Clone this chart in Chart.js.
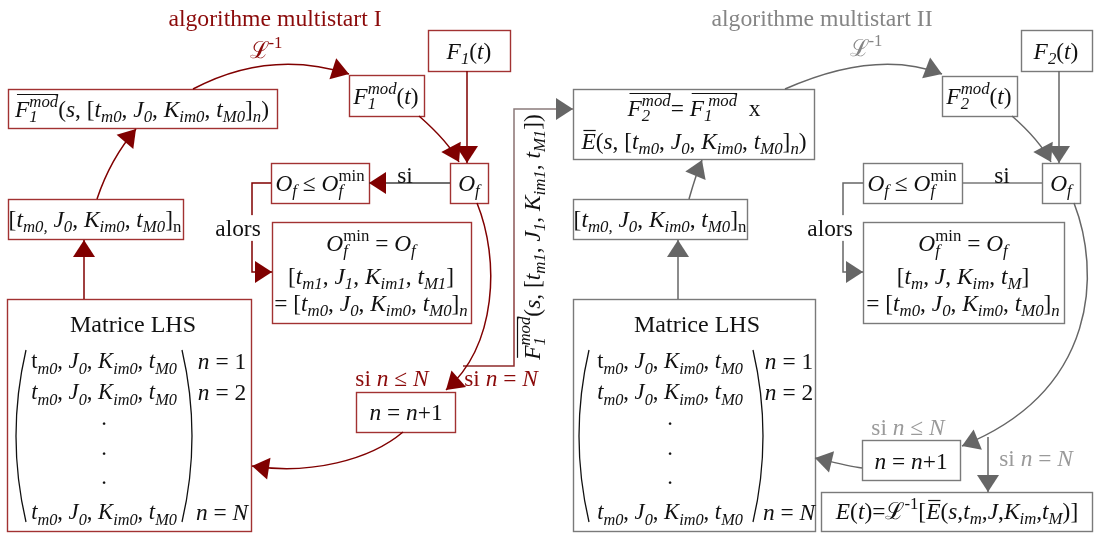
<!DOCTYPE html>
<html>
<head>
<meta charset="utf-8">
<script src="https://cdn.jsdelivr.net/npm/chart.js@4.4.1/dist/chart.umd.min.js"></script>
<style>
  html, body { margin: 0; padding: 0; background: #fff; }
  #wrap { width: 1096px; height: 535px; }
</style>
</head>
<body>
<div id="wrap"><canvas id="c"></canvas></div>
<script>
// Diagram coordinates are given in the 1096 x 535 frame of the figure,
// the chart's x/y scales map them onto the canvas.
const RED = '#800000', RED_BOX = '#a23232', RED_TXT = '#8b0a0a';
const GREY = '#666666', GREY_BOX = '#7a7a7a', GREY_TXT = '#858585', LIGHT_TXT = '#9a9a9a';
const INK = '#111111';
const FONT = '"Liberation Serif", "Times New Roman", "DejaVu Serif", serif';
const S = 23.4;   // text size inside boxes
const M = 22.6;   // text size of the matrix rows
const SUB = 0.72; // size ratio of sub/superscripts

// boxes: [x0, y0, x1, y1]
const boxesI = [
  [428, 30, 510, 71],    // F1(t)
  [349, 75, 424, 116],   // F1mod(t)
  [8, 89, 277, 128],     // F1mod(s, ...)
  [8, 199, 183, 239],    // [tm0 ...]n
  [450, 163, 488, 203],  // Of
  [271, 163, 369, 203],  // Of <= Ofmin
  [272, 222, 471, 323],  // Ofmin = Of
  [7, 299, 251, 531],    // Matrice LHS
  [356, 392, 455, 432]   // n = n+1
];
const boxesII = [
  [1021, 30, 1092, 71],
  [942, 76, 1017, 116],
  [573, 89, 814, 159],
  [573, 199, 747, 239],
  [1042, 163, 1080, 203],
  [863, 163, 962, 203],
  [863, 222, 1064, 323],
  [573, 299, 815, 531],
  [862, 440, 960, 480],
  [821, 492, 1092, 531]
];

// straight connectors (polylines), the last point carries the arrow head
const linesI = [
  [[467, 71], [467, 163]],
  [[271, 183], [252, 183], [252, 272], [272, 272]],
  [[84, 299], [84, 240]]
];
const lineSiI = [[450, 183], [369, 183]];
const linkI_II = [[463, 366], [514, 366], [514, 109], [573, 109]];
const linesII = [
  [[1059, 71], [1059, 163]],
  [[863, 183], [843, 183], [843, 272], [863, 272]],
  [[678, 299], [678, 240]],
  [[988, 437], [988, 492]]
];
const lineSiII = [[1042, 183], [962, 183]];

// curved arrows: cubic [x0, y0, c1x, c1y, c2x, c2y, x1, y1]
const curvesI = [
  [193, 89, 244, 62, 296, 57, 349, 74],
  [419, 116, 435, 130, 450, 145, 459, 162],
  [97, 199, 105, 175, 118, 150, 136, 129],
  [477, 203, 500, 260, 497, 345, 446, 390],
  [403, 432, 370, 460, 310, 475, 252, 466]
];
const curvesII = [
  [785, 89, 846, 62, 898, 57, 942, 74],
  [1012, 116, 1028, 130, 1042, 145, 1051, 162],
  [689, 199, 693, 185, 697, 172, 702, 160],
  [1074, 203, 1100, 270, 1100, 390, 962, 446],
  [862, 468, 848, 466, 832, 462, 815, 458]
];

// matrix brackets: [x, yTop, yBottom, side]
const parens = [[26, 350, 522, -1], [182, 350, 522, 1], [589, 350, 522, -1], [753, 350, 522, 1]];

// labels: [text, cx, cy, size, colour]  (* toggles italic, _{} sub, ^{} sup, ~{} overline)
const rowFirst = 't_{*m0*}, *J*_{*0*}, *K*_{*im0*}, *t*_{*M0*}';
const rowOther = '*t*_{*m0*}, *J*_{*0*}, *K*_{*im0*}, *t*_{*M0*}';
const labelsI = [
  ['algorithme multistart I', 275, 18, 23.7, RED_TXT],
  ['ℒ^{-1}', 266, 50, S, RED_TXT],
  ['*F*_{*1*}(*t*)', 469, 51, S, INK],
  ['*F*_{*1*}^{*mod*}(*t*)', 386, 96, S, INK],
  ['~{*F*_{*1*}^{*mod*}}(*s*, [*t*_{*m0*}, *J*_{*0*}, *K*_{*im0*}, *t*_{*M0*}]_{*n*})', 142, 109, S, INK],
  ['*O*_{*f*}', 469, 183, S, INK],
  ['*O*_{*f*} ≤ *O*_{*f*}^{min}', 320, 183, S, INK],
  ['si', 405, 175, S, INK],
  ['*O*_{*f*}^{min} = *O*_{*f*}', 371, 243, S, INK],
  ['[*t*_{*m1*}, *J*_{*1*}, *K*_{*im1*}, *t*_{*M1*}]', 371, 276, S, INK],
  ['= [*t*_{*m0*}, *J*_{*0*}, *K*_{*im0*}, *t*_{*M0*}]_{*n*}', 371, 303, S, INK],
  ['[*t*_{*m0,*} *J*_{*0*}, *K*_{*im0*}, *t*_{*M0*}]_{n}', 95, 219, S, INK],
  ['Matrice LHS', 133, 324, 24, INK],
  [rowFirst, 104, 361, M, INK],
  [rowOther, 104, 392, M, INK],
  ['.', 104, 418, M, INK],
  ['.', 104, 448, M, INK],
  ['.', 104, 477, M, INK],
  [rowOther, 104, 512, M, INK],
  ['*n* = 1', 222, 361, S, INK],
  ['*n* = 2', 222, 392, S, INK],
  ['*n* = *N*', 222, 512, S, INK],
  ['*n* = *n*+1', 406, 412, S, INK],
  ['si *n* ≤ *N*', 392, 378, S, RED_TXT],
  ['si *n* = *N*', 501, 378, S, RED_TXT]
];
const labelsII = [
  ['algorithme multistart II', 822, 18, 23.7, GREY_TXT],
  ['ℒ^{-1}', 866, 48, S, GREY_TXT],
  ['*F*_{*2*}(*t*)', 1056, 51, S, INK],
  ['*F*_{*2*}^{*mod*}(*t*)', 979, 96, S, INK],
  ['~{*F*_{*2*}^{*mod*}}= ~{*F*_{*1*}^{ *mod*}}  x', 694, 108, S, INK],
  ['~{*E*}(*s*, [*t*_{*m0*}, *J*_{*0*}, *K*_{*im0*}, *t*_{*M0*}]_{*n*})', 694, 141, S, INK],
  ['*O*_{*f*}', 1061, 183, S, INK],
  ['*O*_{*f*} ≤ *O*_{*f*}^{min}', 912, 183, S, INK],
  ['si', 1002, 175, S, INK],
  ['*O*_{*f*}^{min} = *O*_{*f*}', 963, 243, S, INK],
  ['[*t*_{*m*}, *J*, *K*_{*im*}, *t*_{*M*}]', 963, 276, S, INK],
  ['= [*t*_{*m0*}, *J*_{*0*}, *K*_{*im0*}, *t*_{*M0*}]_{*n*}', 963, 303, S, INK],
  ['[*t*_{*m0,*} *J*_{*0*}, *K*_{*im0*}, *t*_{*M0*}]_{n}', 660, 219, S, INK],
  ['Matrice LHS', 697, 324, 24, INK],
  [rowFirst, 670, 361, M, INK],
  [rowOther, 670, 392, M, INK],
  ['.', 670, 418, M, INK],
  ['.', 670, 448, M, INK],
  ['.', 670, 477, M, INK],
  [rowOther, 670, 512, M, INK],
  ['*n* = 1', 789, 361, S, INK],
  ['*n* = 2', 789, 392, S, INK],
  ['*n* = *N*', 789, 512, S, INK],
  ['*n* = *n*+1', 911, 461, S, INK],
  ['si *n* ≤ *N*', 908, 427, S, LIGHT_TXT],
  ['si *n* = *N*', 1036, 458, S, LIGHT_TXT],
  ['*E*(*t*)=ℒ^{-1}[~{*E*}(*s*,*t*_{*m*},*J*,*K*_{*im*},*t*_{*M*})]', 957, 511, S, INK]
];
// words sitting on a line, drawn over a white patch
const patchLabels = [['alors', 238, 228, S], ['alors', 830, 228, S]];
// rotated label along the I -> II link
const sideLabel = ['~{*F*_{*1*}^{*mod*}}(*s*, [*t*_{*m1*}, *J*_{*1*}, *K*_{*im1*}, *t*_{*M1*}])', 532, 237, S];

// ---- small rich text renderer ----
function fontOf(r) {
  return (r.it ? 'italic ' : '') + r.sz.toFixed(1) + 'px ' + FONT;
}

function parseRich(src, size) {
  const runs = [];
  let italic = false, gid = 0, olid = 0;
  function walk(s, sz, dy, ol, g, stackOn) {
    let buf = '', first = true, lastSubG = null, lastSubEnd = -1, i = 0;
    const flush = () => {
      if (!buf) return;
      runs.push({ t: buf, it: italic, sz, dy, ol, g, stackOn: first ? stackOn : null });
      first = false;
      buf = '';
    };
    while (i < s.length) {
      const c = s[i];
      if (c === '*') { flush(); italic = !italic; i++; continue; }
      if ('_^~'.includes(c) && s[i + 1] === '{') {
        let d = 0, j = i + 1;
        for (; j < s.length; j++) {
          if (s[j] === '{') d++;
          else if (s[j] === '}' && --d === 0) break;
        }
        const inner = s.slice(i + 2, j);
        flush();
        if (c === '_') {
          const myg = ++gid;
          walk(inner, sz * SUB, dy + sz * 0.24, ol, myg, null);
          lastSubG = myg;
          lastSubEnd = j + 1;
        } else if (c === '^') {
          walk(inner, sz * SUB, dy - sz * 0.4, ol, ++gid, lastSubEnd === i ? lastSubG : null);
        } else {
          walk(inner, sz, dy, ++olid, g, null);
        }
        i = j + 1;
        continue;
      }
      buf += c;
      i++;
    }
    flush();
  }
  walk(src, size, 0, 0, 0, null);
  return runs;
}

function measureRich(ctx, runs) {
  let x = 0, pend = null, pendG = null;
  const gs = {}, ge = {};
  for (const r of runs) {
    ctx.font = fontOf(r);
    if (r.stackOn != null) { pend = ge[r.stackOn]; pendG = r.g; x = gs[r.stackOn]; }
    else if (pend != null && r.g !== pendG) { x = Math.max(x, pend); pend = null; }
    r.x = x;
    r.w = ctx.measureText(r.t).width;
    x += r.w;
    if (gs[r.g] == null) gs[r.g] = r.x;
    ge[r.g] = x;
  }
  if (pend != null) x = Math.max(x, pend);
  return x;
}

function drawRich(ctx, src, cx, cy, size, color, patch) {
  const runs = parseRich(src, size);
  const w = measureRich(ctx, runs);
  const x0 = cx - w / 2, base = cy + size * 0.33;
  if (patch) {
    ctx.fillStyle = '#fff';
    ctx.fillRect(x0 - 2, cy - size * 0.55, w + 4, size * 1.1);
  }
  ctx.textAlign = 'left';
  ctx.textBaseline = 'alphabetic';
  ctx.fillStyle = color;
  for (const r of runs) {
    ctx.font = fontOf(r);
    ctx.fillText(r.t, x0 + r.x, base + r.dy);
  }
  const ols = {};
  for (const r of runs) {
    if (!r.ol) continue;
    const o = ols[r.ol] || (ols[r.ol] = { a: Infinity, b: -Infinity, top: Infinity });
    o.a = Math.min(o.a, r.x);
    o.b = Math.max(o.b, r.x + r.w);
    o.top = Math.min(o.top, r.dy - r.sz * 0.7);
  }
  ctx.strokeStyle = color;
  ctx.lineWidth = 1.2;
  for (const k in ols) {
    const o = ols[k], y = Math.round(base + o.top - 2) + 0.5;
    ctx.beginPath();
    ctx.moveTo(x0 + o.a + 2, y);
    ctx.lineTo(x0 + o.b, y);
    ctx.stroke();
  }
}

function head(ctx, fx, fy, tx, ty, color) {
  const a = Math.atan2(ty - fy, tx - fx), L = 17, H = 11;
  const bx = tx - L * Math.cos(a), by = ty - L * Math.sin(a);
  ctx.fillStyle = color;
  ctx.beginPath();
  ctx.moveTo(tx, ty);
  ctx.lineTo(bx + H * Math.sin(a), by - H * Math.cos(a));
  ctx.lineTo(bx - H * Math.sin(a), by + H * Math.cos(a));
  ctx.closePath();
  ctx.fill();
}

// ---- datasets for straight connectors ----
function lineSet(pts, color, headColor) {
  return {
    data: pts.map(([x, y]) => ({ x, y })),
    showLine: true, fill: false, tension: 0,
    borderColor: color, borderWidth: 1.5,
    pointRadius: 0, pointHoverRadius: 0, clip: false,
    headColor
  };
}

const datasets = [
  ...linesI.map(p => lineSet(p, RED, RED)),
  lineSet(lineSiI, '#404040', RED),
  ...linesII.map(p => lineSet(p, GREY, GREY)),
  lineSet(lineSiII, '#777777', null),
  Object.assign(lineSet(linkI_II, '#904040', GREY), {
    borderColor(context) {
      const { chart } = context;
      if (!chart.chartArea) return '#904040';
      const y = chart.scales.y;
      const g = chart.ctx.createLinearGradient(0, y.getPixelForValue(366), 0, y.getPixelForValue(109));
      g.addColorStop(0, '#8e2a2a');
      g.addColorStop(1, '#8a7a7a');
      return g;
    }
  })
];

const diagramPlugin = {
  id: 'diagram',
  beforeDatasetsDraw(chart) {
    const { ctx, scales: { x, y } } = chart;
    ctx.save();
    ctx.lineWidth = 1.4;
    const box = (b, color) => {
      const x0 = x.getPixelForValue(b[0]), y0 = y.getPixelForValue(b[1]);
      const x1 = x.getPixelForValue(b[2]), y1 = y.getPixelForValue(b[3]);
      ctx.fillStyle = '#fff';
      ctx.fillRect(x0, y0, x1 - x0, y1 - y0);
      ctx.strokeStyle = color;
      ctx.strokeRect(Math.round(x0) + 0.5, Math.round(y0) + 0.5, Math.round(x1 - x0), Math.round(y1 - y0));
    };
    boxesI.forEach(b => box(b, RED_BOX));
    boxesII.forEach(b => box(b, GREY_BOX));
    ctx.restore();
  },
  afterDatasetsDraw(chart) {
    const { ctx, scales: { x, y } } = chart;
    ctx.save();
    // arrow heads of the straight connectors
    chart.data.datasets.forEach((ds, i) => {
      if (!ds.headColor) return;
      const pts = chart.getDatasetMeta(i).data;
      const a = pts[pts.length - 2], b = pts[pts.length - 1];
      head(ctx, a.x, a.y, b.x, b.y, ds.headColor);
    });
    // curved arrows
    const curve = (c, color) => {
      const p = [];
      for (let k = 0; k < 8; k += 2) p.push(x.getPixelForValue(c[k]), y.getPixelForValue(c[k + 1]));
      ctx.strokeStyle = color;
      ctx.lineWidth = 1.5;
      ctx.beginPath();
      ctx.moveTo(p[0], p[1]);
      ctx.bezierCurveTo(p[2], p[3], p[4], p[5], p[6], p[7]);
      ctx.stroke();
      head(ctx, p[4], p[5], p[6], p[7], color);
    };
    curvesI.forEach(c => curve(c, RED));
    curvesII.forEach(c => curve(c, GREY));
    // matrix brackets
    ctx.strokeStyle = INK;
    ctx.lineWidth = 1.3;
    parens.forEach(([px, t, b, side]) => {
      const X = x.getPixelForValue(px), T = y.getPixelForValue(t), B = y.getPixelForValue(b);
      ctx.beginPath();
      ctx.moveTo(X, T);
      ctx.quadraticCurveTo(X + side * 20, (T + B) / 2, X, B);
      ctx.stroke();
    });
    ctx.restore();
  },
  afterDraw(chart) {
    const { ctx, scales: { x, y } } = chart;
    ctx.save();
    const put = (l, patch) => drawRich(ctx, l[0], x.getPixelForValue(l[1]), y.getPixelForValue(l[2]), l[3], l[4] || INK, patch);
    labelsI.forEach(l => put(l));
    labelsII.forEach(l => put(l));
    patchLabels.forEach(l => put(l, true));
    ctx.translate(x.getPixelForValue(sideLabel[1]), y.getPixelForValue(sideLabel[2]));
    ctx.rotate(-Math.PI / 2);
    drawRich(ctx, sideLabel[0], 0, 0, sideLabel[3], INK);
    ctx.restore();
  }
};

new Chart(document.getElementById('c'), {
  type: 'scatter',
  data: { datasets },
  options: {
    responsive: true,
    maintainAspectRatio: false,
    animation: false,
    events: [],
    layout: { padding: 0 },
    scales: {
      x: { type: 'linear', min: 0, max: 1096, display: false },
      y: { type: 'linear', min: 0, max: 535, reverse: true, display: false }
    },
    plugins: { legend: { display: false }, tooltip: { enabled: false } }
  },
  plugins: [diagramPlugin]
});
</script>
</body>
</html>
